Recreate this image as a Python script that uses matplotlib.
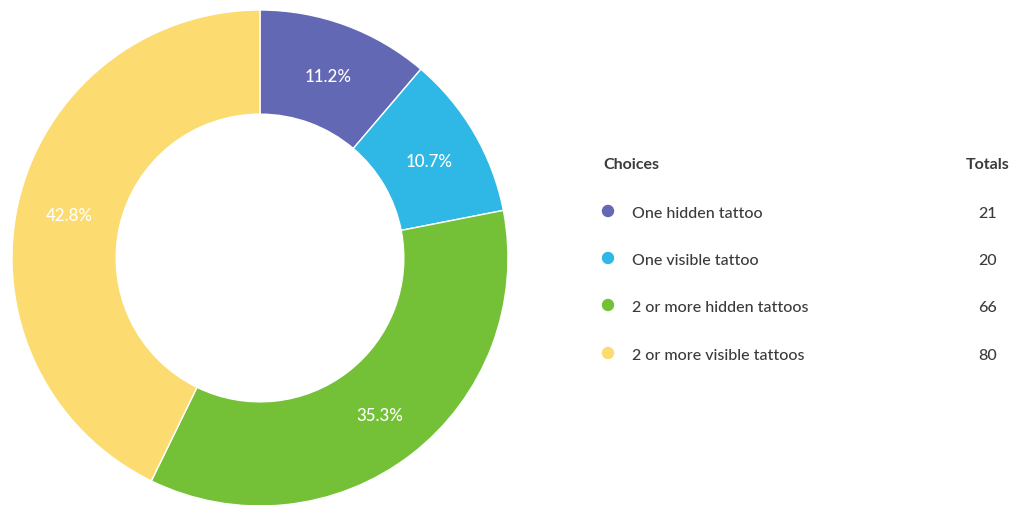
import matplotlib
matplotlib.use("Agg")
import matplotlib.pyplot as plt

plt.rcParams['font.family'] = ['Lato', 'DejaVu Sans']

# data
choices = ["One hidden tattoo", "One visible tattoo", "2 or more hidden tattoos", "2 or more visible tattoos"]
totals = [21, 20, 66, 80]
colors = ["#6368b5", "#2fb8e5", "#74c138", "#fcdb70"]

fig = plt.figure(figsize=(10.18, 5.06), dpi=100)

# donut
ax = fig.add_axes([12/1018, -1/506, 496/1018, 496/506])
wedges, texts, autotexts = ax.pie(totals, colors=colors, startangle=90, counterclock=False,
                                  radius=1, autopct='%.1f%%', pctdistance=0.79,
                                  wedgeprops=dict(width=0.42, edgecolor='white', linewidth=1),
                                  textprops=dict(color='white', fontsize=12.2, fontweight='medium'))
for t in autotexts:
    t.set_va('center_baseline')
ax.set_xlim(-1, 1)
ax.set_ylim(-1, 1)
ax.set_aspect('equal')
ax.axis('off')

# legend table
W, H = 1018, 506
txt = '#3b3b3b'
fig.text(603/W, 1 - 165/H, "Choices", ha='left', va='center', fontsize=11.5, fontweight='bold', color=txt)
fig.text(1009/W, 1 - 165/H, "Totals", ha='right', va='center', fontsize=11.5, fontweight='bold', color=txt)
row_y = [214, 261, 308, 356]
for name, val, c, y in zip(choices, totals, colors, row_y):
    fig.patches.append(matplotlib.patches.Ellipse((608/W, 1 - (y - 2)/H), 11/W, 11/H, color=c,
                                                  transform=fig.transFigure, figure=fig))
    fig.text(632/W, 1 - y/H, name, ha='left', va='center', fontsize=11.5, fontweight='medium', color=txt)
    fig.text(997/W, 1 - y/H, str(val), ha='right', va='center', fontsize=11.5, fontweight='medium', color=txt)

fig.savefig("out.png", dpi=100)
